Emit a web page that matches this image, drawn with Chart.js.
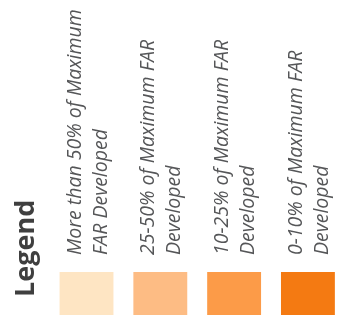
<!DOCTYPE html>
<html>
<head>
<meta charset="utf-8">
<title>FAR Development Legend</title>
<style>
  html, body { margin: 0; padding: 0; background: #ffffff; }
  #wrap { width: 339px; height: 323px; }
  canvas { display: block; }
</style>
<script src="https://cdn.jsdelivr.net/npm/chart.js@4/dist/chart.umd.min.js"></script>
</head>
<body>
<div id="wrap"><canvas id="legendChart" width="339" height="323"></canvas></div>
<script>
// Legend heading
const titleText = 'Legend';

// One entry per development class (each label is drawn on two lines)
const categories = [
  ['More than 50% of Maximum', 'FAR Developed'],
  ['25-50% of Maximum FAR', 'Developed'],
  ['10-25% of Maximum FAR', 'Developed'],
  ['0-10% of Maximum FAR', 'Developed']
];

// Swatch fill for each class
const swatchColors = ['#FEE5C3', '#FDBC84', '#FC9B48', '#F47A12'];

// Every swatch is one unit tall
const swatchValues = [1, 1, 1, 1];

// Rotated labels above each swatch plus the rotated heading
const swatchLabels = {
  id: 'swatchLabels',
  afterDatasetsDraw(chart) {
    const ctx = chart.ctx;
    const bars = chart.getDatasetMeta(0).data;
    ctx.save();
    ctx.textAlign = 'left';
    ctx.textBaseline = 'alphabetic';
    ctx.fillStyle = '#555658';
    ctx.font = 'italic 19.5px "Open Sans"';
    bars.forEach((bar, i) => {
      const left = bar.x - bar.width / 2;
      const startY = bar.y - 17;
      categories[i].forEach((line, j) => {
        ctx.save();
        ctx.translate(left + 21 + j * 26, startY);
        ctx.rotate(-Math.PI / 2);
        ctx.fillText(line, 0, 0);
        ctx.restore();
      });
    });

    ctx.fillStyle = '#3f3f3f';
    ctx.font = 'bold 27px "Open Sans"';
    ctx.translate(chart.chartArea.left + 34, chart.chartArea.bottom - 18);
    ctx.rotate(-Math.PI / 2);
    ctx.fillText(titleText, 0, 0);
    ctx.restore();
  }
};

function build() {
  new Chart(document.getElementById('legendChart'), {
    type: 'bar',
    data: {
      datasets: [{
        data: swatchValues.map((v, i) => ({ x: i, y: v })),
        backgroundColor: swatchColors,
        borderWidth: 0,
        barPercentage: 0.73,
        categoryPercentage: 1
      }]
    },
    options: {
      responsive: false,
      animation: false,
      devicePixelRatio: 1,
      layout: { padding: { top: 0, left: 0, right: 0, bottom: 8 } },
      scales: {
        x: { type: 'linear', offset: false, min: -1.172, max: 3.421, display: false },
        y: { min: 0, max: 7.33, display: false }
      },
      plugins: {
        legend: { display: false },
        tooltip: { enabled: false }
      }
    },
    plugins: [swatchLabels]
  });
}

Promise.all([
  document.fonts.load('italic 19.5px "Open Sans"'),
  document.fonts.load('bold 27px "Open Sans"')
]).then(build, build);
</script>
</body>
</html>
